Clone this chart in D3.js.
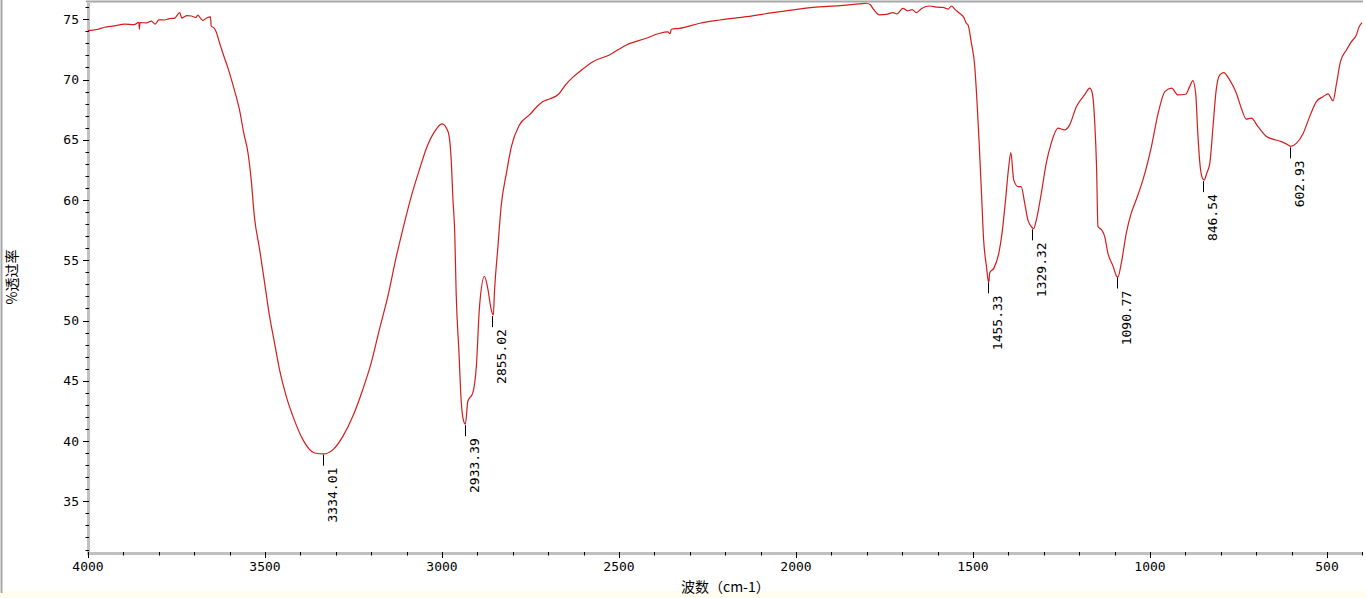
<!DOCTYPE html>
<html>
<head>
<meta charset="utf-8">
<script src="https://cdn.jsdelivr.net/npm/d3@7"></script>
<style>
html,body{margin:0;padding:0;background:#fff;}
svg{display:block;}
text{font-family:"DejaVu Sans Mono","Liberation Mono",monospace;}
</style>
</head>
<body>
<svg id="chart" width="1366" height="598"></svg>
<script>
// ---- data ----
const wavenumber = [4000,3975,3953,3925,3897,3870,3856,3855,3853,3835,3821,3810,3800,3784,3770,3755,3741,3735,3720,3708,3695,3690,3680,3675,3665,3654,3652,3645,3638,3628,3619,3603,3588,3572,3560,3548,3539,3530,3515,3501,3487,3473,3459,3440,3421,3393,3360,3334,3308,3280,3252,3224,3200,3177,3153,3129,3111,3087,3063,3044,3021,3000,2983,2974,2969,2964,2960,2952,2946,2940,2934,2927,2913,2903,2894,2880,2870,2861,2855,2852,2842,2833,2818,2804,2781,2753,2730,2715,2695,2670,2650,2630,2611,2574,2527,2479,2423,2385,2362,2356,2352,2329,2272,2216,2140,2046,1952,1877,1820,1801,1790,1783,1764,1745,1726,1715,1698,1685,1672,1660,1645,1622,1600,1585,1570,1561,1550,1538,1525,1519,1514,1505,1495,1489,1483,1476,1470,1462,1457,1455,1453,1441,1427,1418,1408,1399,1393,1385,1373,1364,1354,1345,1333,1329,1321,1307,1293,1279,1260,1241,1227,1208,1185,1170,1163,1156,1151,1147,1137,1128,1119,1104,1095,1091,1081,1067,1053,1039,1020,996,977,958,939,921,899,888,879,871,865,860,852,847,840,831,822,813,803,792,775,756,742,728,714,695,671,653,629,605,603,586,567,549,530,511,497,483,473,462,445,431,417,409,401];
const transmittance = [74.05,74.15,74.34,74.45,74.6,74.55,74.75,74.17,74.72,74.7,74.85,74.6,74.95,74.94,75.05,75.1,75.55,75.1,75.3,75.27,75.15,75.35,75.0,74.9,75.1,75.2,74.44,74.3,73.97,73.0,72.18,70.8,69.28,67.48,65.55,63.9,61.67,58.63,55.87,53.1,50.34,48.13,45.92,43.71,42.05,40.12,39.01,38.93,39.29,40.39,42.05,44.26,46.48,49.24,52.0,55.32,57.53,60.29,62.6,64.3,65.68,66.32,65.68,63.33,60.02,57.26,52.28,47.31,43.43,41.8,41.4,43.3,44.0,46.19,51.17,53.66,52.55,50.9,50.45,52.28,56.14,59.46,62.23,64.44,66.24,67.06,67.8,68.17,68.4,68.8,69.6,70.2,70.66,71.48,72.04,72.87,73.42,73.84,73.95,73.8,74.17,74.25,74.67,74.94,75.22,75.63,75.99,76.13,76.27,76.33,76.2,75.91,75.36,75.4,75.55,75.45,75.91,75.7,75.8,75.55,75.9,76.1,76.0,75.99,75.85,76.1,75.8,75.5,75.1,74.67,74.53,73.1,71.07,68.31,64.99,60.57,56.7,54.49,53.3,53.2,53.94,54.35,55.6,57.25,60.02,62.78,63.94,61.67,61.12,61.12,59.74,58.36,57.72,57.62,58.36,60.57,63.06,64.72,65.96,65.82,66.24,67.75,68.72,69.28,68.86,66.38,62.78,57.8,57.53,56.97,55.6,54.49,53.71,53.6,54.77,57.25,58.91,60.02,61.67,64.44,67.21,69.0,69.28,68.72,68.78,69.41,69.91,68.86,65.55,63.33,61.8,61.65,62.2,63.06,66.1,69.14,70.38,70.57,69.97,68.86,67.62,66.71,66.79,66.1,65.27,65.05,64.85,64.49,64.45,64.72,65.55,66.92,68.17,68.58,68.81,68.23,69.69,71.48,72.45,73.14,73.7,74.39,74.72];

const peakWavenumber = [3334.01, 2933.39, 2855.02, 1455.33, 1329.32, 1090.77, 846.54, 602.93];
const peakTransmittance = [38.95, 41.4, 50.45, 53.25, 57.65, 53.65, 61.65, 64.45];
const peakLabels = ["3334.01", "2933.39", "2855.02", "1455.33", "1329.32", "1090.77", "846.54", "602.93"];

const xTickValues = [4000, 3500, 3000, 2500, 2000, 1500, 1000, 500];
const yTickValues = [35, 40, 45, 50, 55, 60, 65, 70, 75];
const xLabel = "波数（cm-1）";
const yLabel = "%透过率";

// ---- chart ----
const svg = d3.select("#chart");
const W = 1366, H = 598;
const x = d3.scaleLinear().domain([4000, 400]).range([88, 1362.4]);
const y = d3.scaleLinear().domain([30.71, 76.35]).range([553, 3]);

// window frame bits
svg.append("rect").attr("x", 0).attr("y", 591).attr("width", W).attr("height", H - 591).attr("fill", "#fffcf0");
svg.append("line").attr("x1", 1.5).attr("x2", 1.5).attr("y1", 0).attr("y2", 593)
  .attr("stroke", "#a8a8a8").attr("stroke-width", 2);
svg.append("line").attr("x1", 86).attr("x2", 1363).attr("y1", 1.5).attr("y2", 1.5)
  .attr("stroke", "#a8a8a8").attr("stroke-width", 2);

// axis bars
svg.append("line").attr("x1", 88.5).attr("x2", 88.5).attr("y1", 3).attr("y2", 555)
  .attr("stroke", "#c0c0c0").attr("stroke-width", 3);
svg.append("line").attr("x1", 87).attr("x2", 1363).attr("y1", 553.5).attr("y2", 553.5)
  .attr("stroke", "#c0c0c0").attr("stroke-width", 3);

// y ticks
const yMinor = d3.range(31, 77, 1);
svg.append("g").selectAll("line").data(yMinor).join("line")
  .attr("x1", d => yTickValues.includes(d) ? 83 : 85.5).attr("x2", 89)
  .attr("y1", d => Math.round(y(d)) + 0.5).attr("y2", d => Math.round(y(d)) + 0.5)
  .attr("stroke", "#000").attr("stroke-width", 1);
svg.append("g").selectAll("text").data(yTickValues).join("text")
  .attr("x", 79).attr("y", d => y(d)).attr("dy", "0.36em")
  .attr("text-anchor", "end").attr("font-size", 13).attr("fill", "#000")
  .text(d => d);

// x ticks
const xMinor = d3.range(4000, 399, -100);
svg.append("g").selectAll("line").data(xMinor).join("line")
  .attr("x1", d => Math.round(x(d)) + 0.5).attr("x2", d => Math.round(x(d)) + 0.5)
  .attr("y1", 552).attr("y2", d => xTickValues.includes(d) ? 558 : 555.5)
  .attr("stroke", "#000").attr("stroke-width", 1);
svg.append("g").selectAll("text").data(xTickValues).join("text")
  .attr("x", d => x(d)).attr("y", 571)
  .attr("text-anchor", "middle").attr("font-size", 13).attr("fill", "#000")
  .text(d => d);

// axis titles
svg.append("text").attr("x", 681).attr("y", 592)
  .attr("font-size", 14).attr("fill", "#000")
  .style("font-family", "'Noto Sans CJK SC', 'DejaVu Sans Mono', sans-serif")
  .text(xLabel);
svg.append("text").attr("transform", "translate(17,277) rotate(-90)")
  .attr("text-anchor", "middle").attr("font-size", 14).attr("fill", "#000")
  .style("font-family", "'Noto Sans CJK SC', sans-serif")
  .text(yLabel);

// spectrum
const pts = wavenumber.map((w, i) => [w, transmittance[i]]);
const line = d3.line().x(d => x(d[0])).y(d => y(d[1])).curve(d3.curveMonotoneX);
svg.append("path").datum(pts).attr("d", line)
  .attr("fill", "none").attr("stroke", "#d41c1c").attr("stroke-width", 1.2)
  .attr("stroke-linejoin", "round");

// peak markers
const peaks = peakWavenumber.map((w, i) => ({ w, t: peakTransmittance[i], label: peakLabels[i] }));
const pg = svg.append("g");
pg.selectAll("line").data(peaks).join("line")
  .attr("x1", d => Math.round(x(d.w)) - 0.5).attr("x2", d => Math.round(x(d.w)) - 0.5)
  .attr("y1", d => y(d.t) + 1).attr("y2", d => y(d.t) + 12)
  .attr("stroke", "#000").attr("stroke-width", 1);
pg.selectAll("text").data(peaks).join("text")
  .attr("transform", d => `translate(${Math.round(x(d.w)) + 13},${y(d.t) + 14}) rotate(-90)`)
  .attr("text-anchor", "end").attr("font-size", 13).attr("fill", "#000")
  .text(d => d.label);
</script>
</body>
</html>
